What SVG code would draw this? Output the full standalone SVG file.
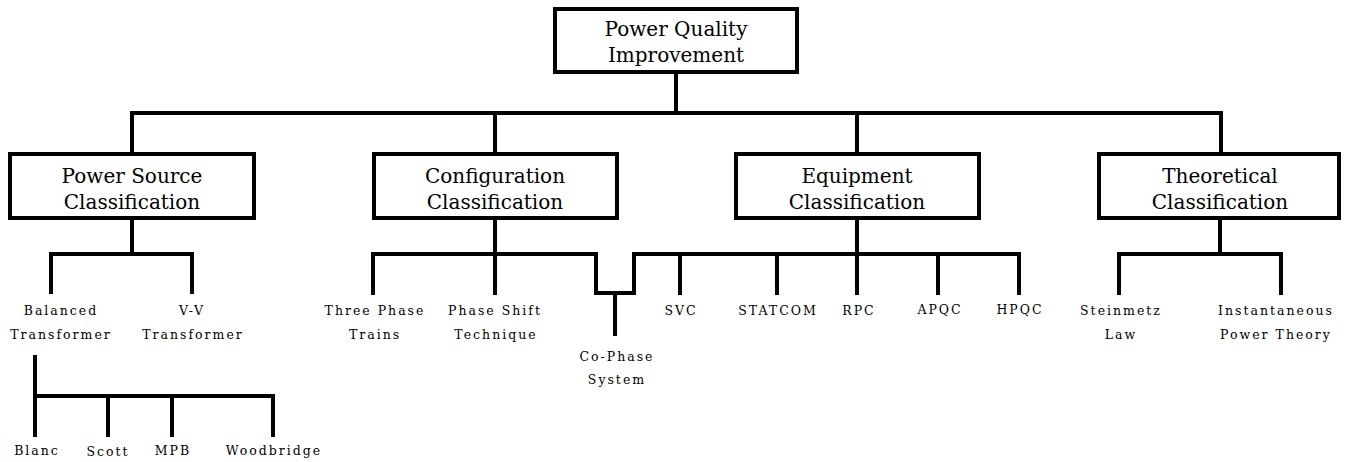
<svg xmlns="http://www.w3.org/2000/svg" width="1349" height="462" viewBox="0 0 1349 462">
<style>
.box{fill:#fff;stroke:#000;stroke-width:4}
.bt{font-family:"DejaVu Serif","Liberation Serif",serif;font-size:20px;text-anchor:middle;fill:#000}
.lt{font-family:"DejaVu Serif","Liberation Serif",serif;font-size:12.5px;letter-spacing:2px;text-anchor:middle;fill:#000}
.ln{fill:none;stroke:#000;stroke-width:4;stroke-linejoin:miter;stroke-linecap:butt}
</style>
<rect width="1349" height="462" fill="#fff"/>
<g id="connectors" class="ln">
<path d="M676 72 V113"/>
<path d="M132 154 V113 H1221 V154"/>
<path d="M495 113 V154"/>
<path d="M857 113 V154"/>
<path d="M132 218 V254"/>
<path d="M51 294 V254 H192 V294"/>
<path d="M35 355 V437"/>
<path d="M35 396 H273 V437"/>
<path d="M108 396 V437"/>
<path d="M172 396 V437"/>
<path d="M495 218 V295"/>
<path d="M373 295 V254 H596 V293 H634 V254 H1019 V295"/>
<path d="M615 293 V336"/>
<path d="M857 218 V295"/>
<path d="M680 254 V295"/>
<path d="M777 254 V295"/>
<path d="M938 254 V295"/>
<path d="M1220 218 V254"/>
<path d="M1119 295 V254 H1281 V295"/>
</g>
<g id="root">
<rect class="box" x="555" y="9" width="242" height="63"/>
<text class="bt" x="676" y="36">Power Quality</text>
<text class="bt" x="676" y="62">Improvement</text>
</g>
<g id="power-source">
<rect class="box" x="10" y="154" width="244" height="64"/>
<text class="bt" x="132" y="183">Power Source</text>
<text class="bt" x="132" y="209">Classification</text>
</g>
<g id="configuration">
<rect class="box" x="374" y="154" width="243" height="64"/>
<text class="bt" x="495" y="183">Configuration</text>
<text class="bt" x="495" y="209">Classification</text>
</g>
<g id="equipment">
<rect class="box" x="736" y="154" width="243" height="64"/>
<text class="bt" x="857" y="183">Equipment</text>
<text class="bt" x="857" y="209">Classification</text>
</g>
<g id="theoretical">
<rect class="box" x="1099" y="154" width="240" height="64"/>
<text class="bt" x="1220" y="183">Theoretical</text>
<text class="bt" x="1220" y="209">Classification</text>
</g>
<g id="balanced"><text class="lt" x="61" y="315">Balanced</text><text class="lt" x="61" y="339">Transformer</text></g>
<g id="vv"><text class="lt" x="192" y="315">V-V</text><text class="lt" x="193" y="339">Transformer</text></g>
<g id="blanc"><text class="lt" x="37" y="455">Blanc</text></g>
<g id="scott"><text class="lt" x="108" y="456">Scott</text></g>
<g id="mpb"><text class="lt" x="173" y="455">MPB</text></g>
<g id="woodbridge"><text class="lt" x="274" y="455">Woodbridge</text></g>
<g id="three-phase"><text class="lt" x="375" y="315">Three Phase</text><text class="lt" x="375" y="339">Trains</text></g>
<g id="phase-shift"><text class="lt" x="495" y="315">Phase Shift</text><text class="lt" x="496" y="339">Technique</text></g>
<g id="co-phase"><text class="lt" x="617" y="361">Co-Phase</text><text class="lt" x="617" y="384">System</text></g>
<g id="svc"><text class="lt" x="681" y="315">SVC</text></g>
<g id="statcom"><text class="lt" x="778" y="315">STATCOM</text></g>
<g id="rpc"><text class="lt" x="859" y="315">RPC</text></g>
<g id="apqc"><text class="lt" x="940" y="314">APQC</text></g>
<g id="hpqc"><text class="lt" x="1020" y="314">HPQC</text></g>
<g id="steinmetz"><text class="lt" x="1121" y="315">Steinmetz</text><text class="lt" x="1121" y="339">Law</text></g>
<g id="instantaneous"><text class="lt" x="1276" y="315">Instantaneous</text><text class="lt" x="1276" y="339">Power Theory</text></g>
</svg>
